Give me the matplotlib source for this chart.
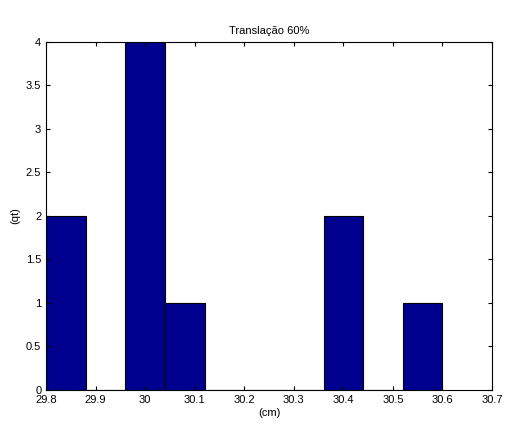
import numpy as np
import matplotlib.pyplot as plt

plt.rcParams['font.family'] = ['Liberation Sans', 'DejaVu Sans']
plt.rcParams['font.size'] = 8

# histogram bins (centres) and counts
bin_centers = [29.84, 29.92, 30.00, 30.08, 30.16, 30.24, 30.32, 30.40, 30.48, 30.56]
counts = [2, 0, 4, 1, 0, 0, 0, 2, 0, 1]
bin_width = 0.08

fig = plt.figure(figsize=(5.24, 4.36), dpi=100)
ax = fig.add_axes([0.088, 0.1055, 0.851, 0.7985])
ax.bar(bin_centers, counts, width=bin_width, color='#00008F', edgecolor='black', linewidth=0.8)

ax.set_xlim(29.8, 30.7)
ax.set_ylim(0, 4)
ax.set_xticks(np.arange(29.8, 30.71, 0.1))
ax.set_xticklabels(['29.8', '29.9', '30', '30.1', '30.2', '30.3', '30.4', '30.5', '30.6', '30.7'])
ax.set_yticks(np.arange(0, 4.01, 0.5))
ax.set_yticklabels(['0', '0.5', '1', '1.5', '2', '2.5', '3', '3.5', '4'])
ax.tick_params(direction='in', top=True, right=True, length=3)
ax.set_xlabel('(cm)', labelpad=2)
ax.set_ylabel('(qt)', labelpad=4)
ax.set_title('Translação 60%', fontsize=8, pad=6)

fig.savefig('out.png', dpi=100)
